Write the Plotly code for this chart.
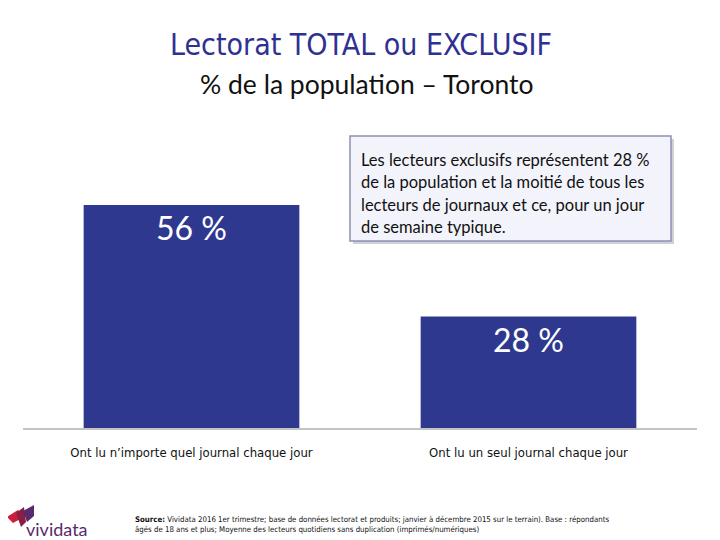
import plotly.graph_objects as go

categories = ["Ont lu n’importe quel journal chaque jour", "Ont lu un seul journal chaque jour"]
values = [56, 28]
title = "Lectorat TOTAL ou EXCLUSIF"
subtitle = "% de la population – Toronto"
note_lines = ["Les lecteurs exclusifs représentent 28 %",
              "de la population et la moitié de tous les",
              "lecteurs de journaux et ce, pour un jour",
              "de semaine typique."]
source = ("<b>Source:</b> Vividata 2016 1er trimestre; base de données lectorat et produits; janvier à décembre 2015 sur le terrain). Base : répondants<br>"
          "âgés de 18 ans et plus; Moyenne des lecteurs quotidiens sans duplication (imprimés/numériques)")
logo_text = "vividata"

BAR = "#2e388f"
NARROW = "Liberation Sans Narrow, DejaVu Sans Condensed, Lato, sans-serif"

# plot area in reference pixel coords: x 23..697, y 100..428 (page has 8px body margin)
PX0, PX1, PY0, PY1 = 23, 697, 100, 428
def px(x): return (x - PX0) / (PX1 - PX0)
def py(y): return (PY1 - y) / (PY1 - PY0)

fig = go.Figure()
fig.add_trace(go.Bar(
    x=categories, y=values, width=0.64,
    marker=dict(color=BAR, line=dict(width=0)),
    text=[f"{v} %" for v in values],
    textposition="inside", insidetextanchor="end",
    textfont=dict(family="Lato, sans-serif", size=32, color="white"),
    textangle=0, cliponaxis=False, hoverinfo="skip",
))

fig.update_layout(
    width=712, height=532,
    margin=dict(l=PX0 - 8, r=712 - (PX1 - 8), t=PY0 - 8, b=532 - (PY1 - 8)),
    paper_bgcolor="white", plot_bgcolor="white",
    showlegend=False,
    xaxis=dict(range=[-0.5, 1.5], showgrid=False, showline=True, linecolor="#c4c4c4", linewidth=2,
               ticks="", ticklabelstandoff=11,
               tickfont=dict(family=NARROW, size=13, color="#111"), fixedrange=True),
    yaxis=dict(range=[0, 82.4], visible=False, fixedrange=True),
)

fig.add_annotation(xref="paper", yref="paper", x=px(361), y=py(45),
                   xanchor="center", yanchor="middle", showarrow=False,
                   text=title, font=dict(family=NARROW, size=30, color="#2e3192"))
fig.add_annotation(xref="paper", yref="paper", x=px(367), y=py(84),
                   xanchor="center", yanchor="middle", showarrow=False,
                   text=subtitle, font=dict(family="Lato, sans-serif", size=26.5, color="#111"))

# note box with shadow
fig.add_shape(type="rect", xref="paper", yref="paper", layer="above",
              x0=px(353), x1=px(674), y0=py(244), y1=py(139),
              fillcolor="rgba(120,120,140,0.35)", line=dict(width=0))
fig.add_shape(type="rect", xref="paper", yref="paper", layer="above",
              x0=px(350), x1=px(671), y0=py(241), y1=py(136),
              fillcolor="#f3f4fb", line=dict(color="#8c90b4", width=1.5))
for i, line in enumerate(note_lines):
    fig.add_annotation(xref="paper", yref="paper", x=px(359), y=py(160 + 22.3 * i),
                       xanchor="left", yanchor="middle", align="left", showarrow=False,
                       text=line, font=dict(family="Lato, sans-serif", size=16.5, color="#111"))

fig.add_annotation(xref="paper", yref="paper", x=px(133), y=py(524),
                   xanchor="left", yanchor="middle", align="left", showarrow=False,
                   text=source, font=dict(family=NARROW, size=7.8, color="#111"))

# logo
fig.add_annotation(xref="paper", yref="paper", x=px(24), y=py(529),
                   xanchor="left", yanchor="middle", showarrow=False,
                   text=logo_text, font=dict(family="Lato, sans-serif", size=18, color="#5a2a6e"))
def poly(pts, color):
    path = "M " + " L ".join(f"{px(a)},{py(b)}" for a, b in pts) + " Z"
    fig.add_shape(type="path", xref="paper", yref="paper", layer="above",
                  path=path, fillcolor=color, line=dict(width=0))
poly([(7, 517), (18, 510), (24, 517), (13, 523)], "#c8203c")
poly([(16, 513), (24, 507), (26, 522), (21, 527)], "#8a1f45")
poly([(23, 511), (34, 505), (34, 516), (27, 522)], "#5a2a6e")

fig.write_html("out.html")
